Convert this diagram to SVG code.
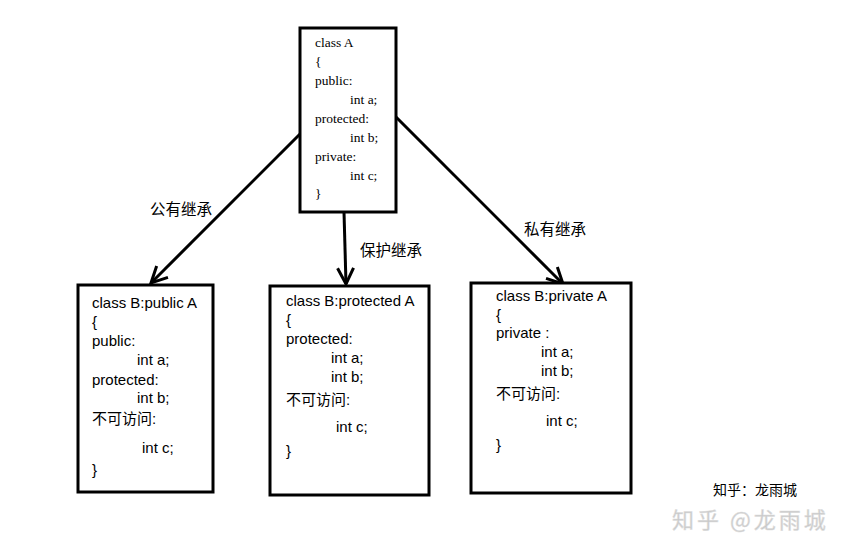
<svg xmlns="http://www.w3.org/2000/svg" width="848" height="546" viewBox="0 0 848 546">
<style>
.box{fill:#fff;stroke:#000;stroke-width:3}
.serif{font-family:"Liberation Serif",serif;font-size:13.5px;fill:#000}
.sans{font-family:"Liberation Sans","Noto Sans CJK SC",sans-serif;font-size:15px;fill:#000}
.lbl{font-family:"Noto Sans CJK SC",sans-serif;font-size:15.5px;fill:#000}
.conn{stroke:#000;stroke-width:3;fill:none}
</style>
<defs>
<marker id="arr" viewBox="0 0 20 20" refX="18" refY="10" markerWidth="20" markerHeight="20" markerUnits="userSpaceOnUse" orient="auto">
<path d="M2,2 L18,10 L2,18" fill="none" stroke="#000" stroke-width="3"/>
</marker>
</defs>
<rect width="848" height="546" fill="#fff"/>
<g id="connectors">
<line class="conn" x1="300" y1="134" x2="151" y2="283" marker-end="url(#arr)"/>
<line class="conn" x1="344" y1="212" x2="346" y2="284" marker-end="url(#arr)"/>
<line class="conn" x1="396" y1="117" x2="563" y2="284" marker-end="url(#arr)"/>
<text class="lbl" x="150" y="215">公有继承</text>
<text class="lbl" x="360" y="256">保护继承</text>
<text class="lbl" x="524" y="235">私有继承</text>
</g>
<g id="classA">
<rect class="box" x="300" y="28" width="96" height="184"/>
<text class="serif" x="315" y="47">class A</text>
<text class="serif" x="315" y="66">{</text>
<text class="serif" x="315" y="85">public:</text>
<text class="serif" x="350" y="104">int a;</text>
<text class="serif" x="315" y="123">protected:</text>
<text class="serif" x="350" y="142">int b;</text>
<text class="serif" x="315" y="161">private:</text>
<text class="serif" x="350" y="180">int c;</text>
<text class="serif" x="315" y="198">}</text>
</g>
<g id="classBpublic">
<rect class="box" x="78" y="285" width="135" height="207"/>
<text class="sans" x="92" y="308">class B:public A</text>
<text class="sans" x="92" y="327">{</text>
<text class="sans" x="92" y="346">public:</text>
<text class="sans" x="137" y="365">int a;</text>
<text class="sans" x="92" y="385">protected:</text>
<text class="sans" x="137" y="403">int b;</text>
<text class="sans" x="92" y="424">不可访问:</text>
<text class="sans" x="142" y="453">int c;</text>
<text class="sans" x="92" y="475">}</text>
</g>
<g id="classBprotected">
<rect class="box" x="270" y="286" width="159" height="209"/>
<text class="sans" x="286" y="306">class B:protected A</text>
<text class="sans" x="286" y="325">{</text>
<text class="sans" x="286" y="344">protected:</text>
<text class="sans" x="331" y="363">int a;</text>
<text class="sans" x="331" y="382">int b;</text>
<text class="sans" x="286" y="405">不可访问:</text>
<text class="sans" x="336" y="432">int c;</text>
<text class="sans" x="286" y="456">}</text>
</g>
<g id="classBprivate">
<rect class="box" x="471" y="283" width="160" height="210"/>
<text class="sans" x="496" y="301">class B:private A</text>
<text class="sans" x="496" y="320">{</text>
<text class="sans" x="496" y="338">private :</text>
<text class="sans" x="541" y="357">int a;</text>
<text class="sans" x="541" y="376">int b;</text>
<text class="sans" x="496" y="399">不可访问:</text>
<text class="sans" x="546" y="426">int c;</text>
<text class="sans" x="496" y="450">}</text>
</g>
<text x="713" y="495" font-family="Noto Sans CJK SC,sans-serif" font-size="14" fill="#000">知乎：龙雨城</text>
<text x="672" y="528" font-family="Noto Sans CJK SC,sans-serif" font-size="22" letter-spacing="3" fill="#c8c8c8" stroke="#e0e0e0" stroke-width="0.5">知乎 @龙雨城</text>
</svg>
